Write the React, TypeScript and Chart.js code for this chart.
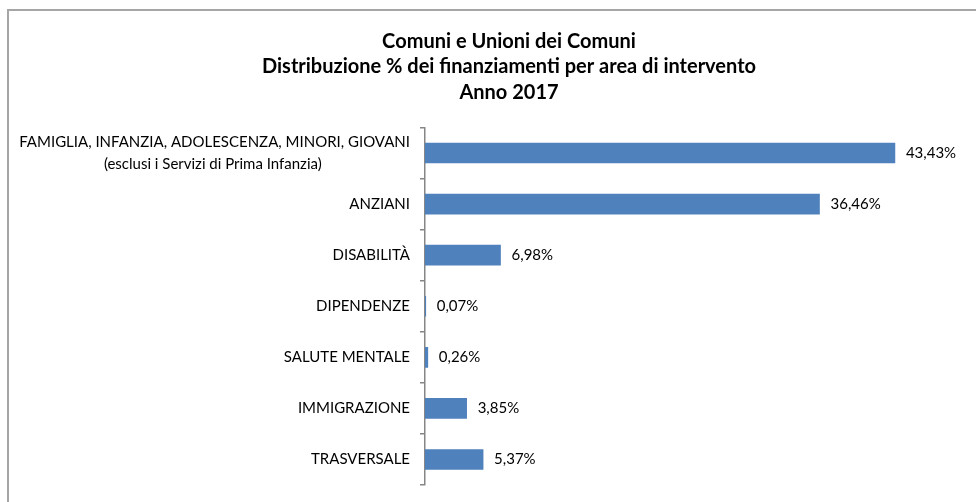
import React, { useEffect, useRef } from "react";
import { Chart, registerables } from "chart.js";

Chart.register(...registerables);

const titleLines = [
  "Comuni e Unioni dei Comuni",
  "Distribuzione % dei finanziamenti per area di intervento",
  "Anno 2017",
];

const categories: (string | string[])[] = [
  ["FAMIGLIA, INFANZIA, ADOLESCENZA, MINORI, GIOVANI", "(esclusi i Servizi di Prima Infanzia)"],
  "ANZIANI",
  "DISABILITÀ",
  "DIPENDENZE",
  "SALUTE MENTALE",
  "IMMIGRAZIONE",
  "TRASVERSALE",
];

const values = [43.43, 36.46, 6.98, 0.07, 0.26, 3.85, 5.37];

const xMin = 0;
const xMax = 50;

const LABEL_FONT = "15px Lato";
const TITLE_FONT = "bold 20px Lato";
const BAR_COLOR = "#4F81BD";
const AXIS_COLOR = "#868686";

const fmt = (v: number) => v.toFixed(2).replace(".", ",") + "%";

// Center the shorter line of a multi-line label under the widest one (block stays right-aligned)
function centerLines(lbl: string | string[]): string | string[] {
  if (!Array.isArray(lbl)) return lbl;
  const c = document.createElement("canvas").getContext("2d")!;
  c.font = LABEL_FONT;
  const widest = Math.max(...lbl.map((l) => c.measureText(l).width));
  const sp = c.measureText(" ").width;
  return lbl.map((l) => {
    const n = Math.round((widest - c.measureText(l).width) / 2 / sp);
    return l + " ".repeat(Math.max(0, n));
  });
}

const valueLabelPlugin = {
  id: "valueLabels",
  afterDatasetsDraw(chart: any) {
    const ctx = chart.ctx;
    const meta = chart.getDatasetMeta(0);
    ctx.save();
    ctx.font = LABEL_FONT;
    ctx.fillStyle = "#000";
    ctx.textAlign = "left";
    ctx.textBaseline = "middle";
    meta.data.forEach((bar: any, i: number) => {
      ctx.fillText(fmt(values[i]), bar.x + 11, bar.y);
    });
    ctx.restore();
  },
};

const titlePlugin = {
  id: "multiTitle",
  afterDraw(chart: any) {
    const ctx = chart.ctx;
    ctx.save();
    ctx.font = TITLE_FONT;
    ctx.fillStyle = "#000";
    ctx.textAlign = "center";
    ctx.textBaseline = "alphabetic";
    titleLines.forEach((t, i) => ctx.fillText(t, 509, 47.5 + i * 25.5));
    ctx.restore();
  },
};

export default function App() {
  const ref = useRef<HTMLCanvasElement>(null);

  useEffect(() => {
    if (!ref.current) return;
    const labels = categories.map(centerLines);
    const chart = new Chart(ref.current, {
      type: "bar",
      data: {
        labels,
        datasets: [
          {
            data: values,
            backgroundColor: BAR_COLOR,
            borderWidth: 0,
            barThickness: 20,
          },
        ],
      },
      options: {
        indexAxis: "y",
        animation: false,
        responsive: false,
        maintainAspectRatio: false,
        layout: { padding: { left: 0, right: 10, top: 127.5, bottom: 17 } },
        plugins: {
          legend: { display: false },
          tooltip: { enabled: false },
          title: { display: false },
        },
        scales: {
          x: { display: false, min: xMin, max: xMax },
          y: {
            afterFit: (scale: any) => {
              scale.width = 425;
              scale.paddingTop = 0;
              scale.paddingBottom = 0;
            },
            grid: {
              offset: true,
              drawOnChartArea: false,
              drawTicks: true,
              tickLength: 5,
              color: AXIS_COLOR,
              lineWidth: 1.5,
            },
            border: { display: true, color: AXIS_COLOR, width: 1.5 },
            ticks: {
              color: "#000",
              padding: 10,
              autoSkip: false,
              font: { family: "Lato", size: 15, lineHeight: "22px" },
            },
          },
        },
      },
      plugins: [valueLabelPlugin, titlePlugin],
    });
    return () => chart.destroy();
  }, []);

  return (
    <div style={{ position: "absolute", left: 0, top: 0, width: 976, height: 502, overflow: "hidden", background: "#fff" }}>
      <canvas ref={ref} width={976} height={502} style={{ position: "absolute", left: 0, top: 0 }} />
      <div
        style={{
          position: "absolute",
          left: 7,
          top: 9,
          width: 2000,
          height: 2000,
          borderTop: "2px solid #a6a6a6",
          borderLeft: "2px solid #a6a6a6",
          pointerEvents: "none",
        }}
      />
    </div>
  );
}
